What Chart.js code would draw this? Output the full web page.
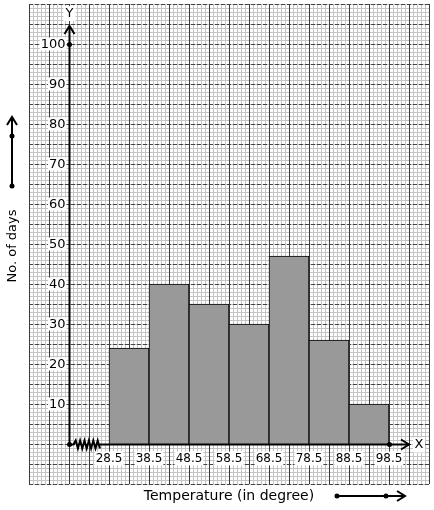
<!DOCTYPE html>
<html>
<head>
<meta charset="utf-8">
<script src="https://cdn.jsdelivr.net/npm/chart.js@4.4.1/dist/chart.umd.min.js"></script>
<style>
  html, body { margin: 0; padding: 0; background: #fff; }
  canvas { display: block; }
</style>
</head>
<body>
<canvas id="hist" width="434" height="510"></canvas>
<script>
// class boundaries and frequencies
var limites = [28.5, 38.5, 48.5, 58.5, 68.5, 78.5, 88.5, 98.5];
var dias = [24, 40, 35, 30, 47, 26, 10];
var marcasY = [10, 20, 30, 40, 50, 60, 70, 80, 90, 100];
var marcasX = ['28.5', '38.5', '48.5', '58.5', '68.5', '78.5', '88.5', '98.5'];

var origenX = 18.5;   // where the y axis sits on the x scale
var xMin = 8.5, xMax = 108.5, yMin = -10, yMax = 110;

var barras = [];
for (var i = 0; i < dias.length; i++) {
  barras.push({ x: (limites[i] + limites[i + 1]) / 2, y: dias[i] });
}

var fuente = '13px "DejaVu Sans", sans-serif';

function punto(ctx, x, y) {
  ctx.beginPath();
  ctx.arc(x, y, 2.5, 0, Math.PI * 2);
  ctx.fill();
}

var papel = {
  id: 'papel',
  beforeDatasetsDraw: function(chart) {
    var ctx = chart.ctx, sx = chart.scales.x, sy = chart.scales.y;
    var x0 = Math.round(sx.getPixelForValue(xMin)), x1 = Math.round(sx.getPixelForValue(xMax));
    var y0 = Math.round(sy.getPixelForValue(yMax)), y1 = Math.round(sy.getPixelForValue(yMin));
    ctx.save();
    ctx.fillStyle = '#fff';
    ctx.fillRect(x0, y0, x1 - x0, y1 - y0);
    ctx.lineWidth = 1;
    // minor lines
    ctx.strokeStyle = '#c4c4c4';
    for (var v = xMin; v <= xMax; v++) {
      var px = Math.round(sx.getPixelForValue(v)) + 0.5;
      ctx.beginPath(); ctx.moveTo(px, y0); ctx.lineTo(px, y1); ctx.stroke();
    }
    for (var w = yMin; w <= yMax; w++) {
      var py = Math.round(sy.getPixelForValue(w)) + 0.5;
      ctx.beginPath(); ctx.moveTo(x0, py); ctx.lineTo(x1, py); ctx.stroke();
    }
    // major lines
    ctx.strokeStyle = '#3a3a3a';
    for (var v2 = xMin; v2 <= xMax; v2 += 5) {
      var px2 = Math.round(sx.getPixelForValue(v2)) + 0.5;
      ctx.beginPath(); ctx.moveTo(px2, y0); ctx.lineTo(px2, y1); ctx.stroke();
    }
    ctx.strokeStyle = '#444';
    ctx.setLineDash([4, 2]);
    for (var w2 = yMin; w2 <= yMax; w2 += 5) {
      var py2 = Math.round(sy.getPixelForValue(w2)) + 0.5;
      ctx.beginPath(); ctx.moveTo(x0, py2); ctx.lineTo(x1, py2); ctx.stroke();
    }
    ctx.setLineDash([]);
    ctx.restore();
  },
  afterDatasetsDraw: function(chart) {
    var ctx = chart.ctx, sx = chart.scales.x, sy = chart.scales.y;
    var ox = Math.round(sx.getPixelForValue(origenX)) + 0.5;
    var oy = Math.round(sy.getPixelForValue(0)) + 0.5;
    var topY = sy.getPixelForValue(yMax) + 22;
    var endX = sx.getPixelForValue(limites[limites.length - 1]) + 20;
    ctx.save();
    ctx.strokeStyle = '#000'; ctx.fillStyle = '#000';
    ctx.lineWidth = 2;
    // y axis
    ctx.beginPath(); ctx.moveTo(ox, oy); ctx.lineTo(ox, topY); ctx.stroke();
    ctx.beginPath(); ctx.moveTo(ox - 5, topY + 8); ctx.lineTo(ox, topY); ctx.lineTo(ox + 5, topY + 8); ctx.stroke();
    // x axis with break
    var brk = sx.getPixelForValue(limites[0]) - 10;
    ctx.beginPath(); ctx.moveTo(ox, oy); ctx.lineTo(ox + 4, oy);
    var zx = ox + 4, up = true;
    while (zx < brk) {
      zx += 2.2;
      ctx.lineTo(zx, oy + (up ? -4 : 4));
      up = !up;
    }
    ctx.lineTo(brk, oy); ctx.lineTo(endX, oy); ctx.stroke();
    ctx.beginPath(); ctx.moveTo(endX - 8, oy - 5); ctx.lineTo(endX, oy); ctx.lineTo(endX - 8, oy + 5); ctx.stroke();
    punto(ctx, ox, oy);
    punto(ctx, ox, Math.round(sy.getPixelForValue(100)) + 0.5);
    punto(ctx, Math.round(sx.getPixelForValue(limites[limites.length - 1])) + 0.5, oy);

    ctx.font = fuente;
    ctx.textBaseline = 'middle';
    // axis letters
    ctx.textAlign = 'center';
    ctx.fillStyle = '#fff';
    ctx.fillRect(ox - 6, topY - 20, 12, 15);
    ctx.fillRect(endX + 4, oy - 7, 12, 15);
    ctx.fillStyle = '#000';
    ctx.fillText('Y', ox, topY - 12);
    ctx.fillText('X', endX + 10, oy);

    // y tick labels
    ctx.textAlign = 'right';
    marcasY.forEach(function(t) {
      var py = Math.round(sy.getPixelForValue(t)) + 0.5;
      var tw = ctx.measureText(String(t)).width;
      ctx.fillStyle = '#fff';
      ctx.fillRect(ox - 4 - tw - 1, py - 7, tw + 2, 13);
      ctx.fillStyle = '#000';
      ctx.fillText(String(t), ox - 4, py);
    });
    // x tick labels
    ctx.textAlign = 'center';
    ctx.font = '12px "DejaVu Sans", sans-serif';
    marcasX.forEach(function(t, i) {
      var px = sx.getPixelForValue(limites[i]);
      var tw = ctx.measureText(t).width;
      ctx.fillStyle = '#fff';
      ctx.fillRect(px - tw / 2 - 1, oy + 7, tw + 2, 14);
      ctx.fillStyle = '#000';
      ctx.fillText(t, px, oy + 14);
    });

    // titles outside the paper
    ctx.font = '14px "DejaVu Sans", sans-serif';
    ctx.fillText('Temperature (in degree)', 229, 496);
    ctx.save();
    ctx.font = '13px "DejaVu Sans", sans-serif';
    ctx.translate(13, 246);
    ctx.rotate(-Math.PI / 2);
    ctx.fillText('No. of days', 0, 0);
    ctx.restore();

    // side arrows
    ctx.lineWidth = 2;
    ctx.beginPath(); ctx.moveTo(12, 186); ctx.lineTo(12, 117); ctx.stroke();
    ctx.beginPath(); ctx.moveTo(7, 125); ctx.lineTo(12, 117); ctx.lineTo(17, 125); ctx.stroke();
    punto(ctx, 12, 186); punto(ctx, 12, 136);
    ctx.beginPath(); ctx.moveTo(337, 496); ctx.lineTo(405, 496); ctx.stroke();
    ctx.beginPath(); ctx.moveTo(397, 491); ctx.lineTo(405, 496); ctx.lineTo(397, 501); ctx.stroke();
    punto(ctx, 337, 496); punto(ctx, 386, 496);
    ctx.restore();
  }
};

var ctx = document.getElementById('hist').getContext('2d');
var grafica = new Chart(ctx, {
  type: 'bar',
  data: {
    datasets: [{
      label: 'No. of days',
      data: barras,
      backgroundColor: '#999999',
      borderColor: '#000',
      borderWidth: 1,
      barPercentage: 1,
      categoryPercentage: 1
    }]
  },
  options: {
    responsive: false,
    animation: false,
    layout: { padding: { left: 29, top: 4, right: 5, bottom: 26 } },
    plugins: { legend: { display: false }, tooltip: { enabled: false } },
    scales: {
      x: { type: 'linear', min: xMin, max: xMax, display: false, offset: false, grid: { offset: false } },
      y: { type: 'linear', min: yMin, max: yMax, display: false }
    }
  },
  plugins: [papel]
});
</script>
</body>
</html>
